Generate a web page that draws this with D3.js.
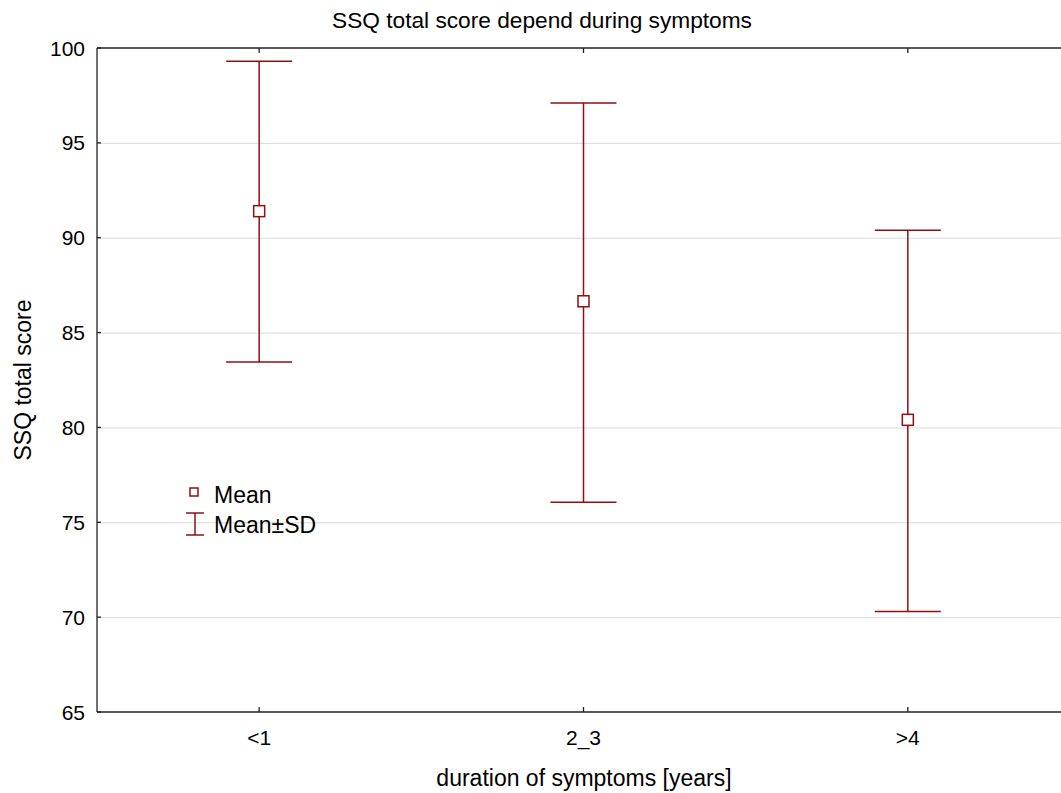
<!DOCTYPE html>
<meta charset="utf-8">
<head>
  <style>
    body { margin: 0; background: #fff; }
    text { font-family: "Liberation Sans", Arial, sans-serif; fill: #000; }
    .grid line { stroke: #d9d9d9; stroke-width: 1px; }
  </style>
  <script src="https://d3js.org/d3.v7.min.js"></script>
</head>
<body>
  <svg width="1061" height="793"></svg>
  <script>
    var groups = ["<1", "2_3", ">4"];
    var means = [91.4, 86.65, 80.4];
    var upper = [99.3, 97.1, 90.4];
    var lower = [83.45, 76.05, 70.3];
    var yTicks = [65, 70, 75, 80, 85, 90, 95, 100];

    var svg = d3.select("svg");
    var pLeft = 97, pTop = 48, pBottom = 712, pRight = 1070;
    var red = "#8e1010";

    var x = d3.scalePoint().domain(groups).range([pLeft, pRight]).padding(0.5);
    var y = d3.scaleLinear().domain([65, 100]).range([pBottom, pTop]);

    // grid
    svg.append("g").attr("class", "grid")
      .selectAll("line").data(yTicks.slice(1, -1)).enter().append("line")
      .attr("x1", pLeft).attr("x2", pRight)
      .attr("y1", d => y(d) + 0.5).attr("y2", d => y(d) + 0.5);

    // frame
    var frame = svg.append("g").attr("stroke", "#222").attr("stroke-width", 1.3);
    frame.append("line").attr("x1", pLeft).attr("x2", pRight).attr("y1", pTop).attr("y2", pTop);
    frame.append("line").attr("x1", pLeft).attr("x2", pRight).attr("y1", pBottom).attr("y2", pBottom);
    frame.append("line").attr("x1", pLeft).attr("x2", pLeft).attr("y1", pTop).attr("y2", pBottom);

    // ticks inward
    groups.forEach(function(g) {
      frame.append("line").attr("x1", x(g)).attr("x2", x(g)).attr("y1", pBottom).attr("y2", pBottom - 5);
      frame.append("line").attr("x1", x(g)).attr("x2", x(g)).attr("y1", pTop).attr("y2", pTop + 5);
    });
    yTicks.forEach(function(t) {
      frame.append("line").attr("x1", pLeft).attr("x2", pLeft + 4).attr("y1", y(t)).attr("y2", y(t));
    });

    // y labels
    svg.append("g").selectAll("text").data(yTicks).enter().append("text")
      .attr("x", pLeft - 12).attr("y", d => y(d) + 7.5)
      .attr("text-anchor", "end").attr("font-size", 21)
      .text(d => d);

    // x labels
    svg.append("g").selectAll("text").data(groups).enter().append("text")
      .attr("x", d => x(d)).attr("y", 745)
      .attr("text-anchor", "middle").attr("font-size", 21)
      .text(d => d);

    // error bars
    var bars = svg.append("g").attr("stroke", red).attr("stroke-width", 1.5).attr("fill", "none");
    groups.forEach(function(g, i) {
      var cx = x(g);
      bars.append("line").attr("x1", cx).attr("x2", cx).attr("y1", y(upper[i])).attr("y2", y(lower[i]));
      bars.append("line").attr("x1", cx - 33).attr("x2", cx + 33).attr("y1", y(upper[i])).attr("y2", y(upper[i]));
      bars.append("line").attr("x1", cx - 33).attr("x2", cx + 33).attr("y1", y(lower[i])).attr("y2", y(lower[i]));
      bars.append("rect").attr("x", cx - 5.5).attr("y", y(means[i]) - 5.5)
        .attr("width", 11).attr("height", 11).attr("fill", "#fff");
    });

    // legend
    var leg = svg.append("g");
    leg.append("rect").attr("x", 190).attr("y", 488).attr("width", 8).attr("height", 8)
      .attr("fill", "#fff").attr("stroke", red).attr("stroke-width", 1.5);
    leg.append("text").attr("x", 214).attr("y", 503).attr("font-size", 23).text("Mean");
    var li = leg.append("g").attr("stroke", red).attr("stroke-width", 1.5);
    li.append("line").attr("x1", 195).attr("x2", 195).attr("y1", 513).attr("y2", 535);
    li.append("line").attr("x1", 186).attr("x2", 204).attr("y1", 513).attr("y2", 513);
    li.append("line").attr("x1", 186).attr("x2", 204).attr("y1", 535).attr("y2", 535);
    leg.append("text").attr("x", 214).attr("y", 533).attr("font-size", 23).text("Mean\u00B1SD");

    // titles
    svg.append("text").attr("x", 542).attr("y", 28).attr("text-anchor", "middle")
      .attr("font-size", 22.7).text("SSQ total score depend during symptoms");
    svg.append("text").attr("x", 584).attr("y", 786).attr("text-anchor", "middle")
      .attr("font-size", 23).text("duration of symptoms [years]");
    svg.append("text").attr("transform", "translate(31,380) rotate(-90)")
      .attr("text-anchor", "middle").attr("font-size", 23).text("SSQ total score");
  </script>
</body>
